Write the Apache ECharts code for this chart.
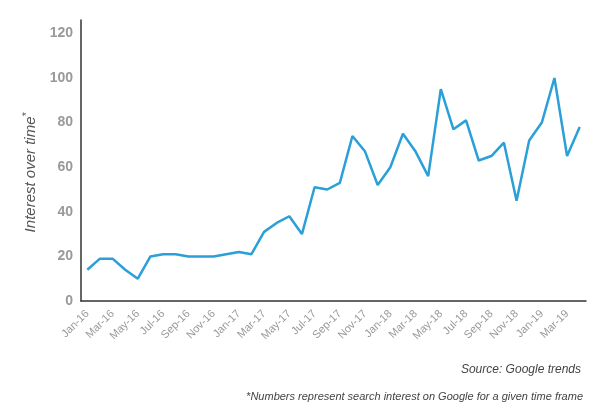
<!DOCTYPE html>
<html>
<head>
<meta charset="utf-8">
<script src="https://cdn.jsdelivr.net/npm/echarts@6/dist/echarts.min.js"></script>
<style>
    html, body { margin: 0; padding: 0; background: #fff; }
    #chart { width: 604px; height: 414px; }
</style>
</head>
<body>
<div id="chart"></div>
<script>
// 月份
var months = ['Jan-16', 'Feb-16', 'Mar-16', 'Apr-16', 'May-16', 'Jun-16', 'Jul-16', 'Aug-16', 'Sep-16', 'Oct-16', 'Nov-16', 'Dec-16',
    'Jan-17', 'Feb-17', 'Mar-17', 'Apr-17', 'May-17', 'Jun-17', 'Jul-17', 'Aug-17', 'Sep-17', 'Oct-17', 'Nov-17', 'Dec-17',
    'Jan-18', 'Feb-18', 'Mar-18', 'Apr-18', 'May-18', 'Jun-18', 'Jul-18', 'Aug-18', 'Sep-18', 'Oct-18', 'Nov-18', 'Dec-18',
    'Jan-19', 'Feb-19', 'Mar-19', 'Apr-19'];

// 搜索热度
var interest = [14, 19, 19, 14, 10, 20, 21, 21, 20, 20, 20, 21,
    22, 21, 31, 35, 38, 30, 51, 50, 53, 74, 67, 52,
    60, 75, 67, 56, 95, 77, 81, 63, 65, 71, 45, 72,
    80, 100, 65, 78];

var yTicks = [0, 20, 40, 60, 80, 100, 120];

var chart = echarts.init(document.getElementById('chart'));

var option = {
    animation: false,
    textStyle: { fontFamily: 'Liberation Sans, Arial, sans-serif' },
    grid: { left: 81, right: 18, top: 20, bottom: 113 },
    title: [
        {
            text: 'Source: Google trends',
            right: 18, top: 359,
            textStyle: { fontSize: 12, fontStyle: 'italic', fontWeight: 'normal', color: '#444' }
        },
        {
            text: '*Numbers represent search interest on Google for a given time frame',
            right: 16, top: 386,
            textStyle: { fontSize: 11, fontStyle: 'italic', fontWeight: 'normal', color: '#444' }
        }
    ],
    xAxis: {
        type: 'category',
        data: months,
        boundaryGap: true,
        axisLine: { lineStyle: { color: '#333', width: 1.5 } },
        axisTick: { show: false },
        axisLabel: {
            interval: 1,
            rotate: 45,
            color: '#999',
            fontSize: 11,
            margin: 11
        }
    },
    yAxis: {
        type: 'value',
        min: 0,
        max: 126,
        interval: 20,
        name: 'Interest over time{s|*}',
        nameLocation: 'middle',
        nameGap: 35,
        nameRotate: 90,
        nameTextStyle: {
            fontSize: 15,
            fontStyle: 'italic',
            color: '#555',
            padding: [0, 24, 0, 0],
            rich: { s: { fontSize: 10, fontStyle: 'italic', color: '#555', verticalAlign: 'top', padding: [0, 0, 8, 0] } }
        },
        axisLine: { show: true, lineStyle: { color: '#333', width: 1.5 } },
        axisTick: { show: false },
        splitLine: { show: false },
        axisLabel: {
            showMaxLabel: false,
            color: '#999',
            fontSize: 14,
            fontWeight: 'bold',
            margin: 8,
            formatter: function (v) {
                return yTicks.indexOf(v) >= 0 ? String(v) : '';
            }
        }
    },
    series: [{
        type: 'line',
        data: interest,
        symbol: 'none',
        lineStyle: { color: '#2b9fd8', width: 2.5 }
    }]
};

chart.setOption(option);
</script>
</body>
</html>
